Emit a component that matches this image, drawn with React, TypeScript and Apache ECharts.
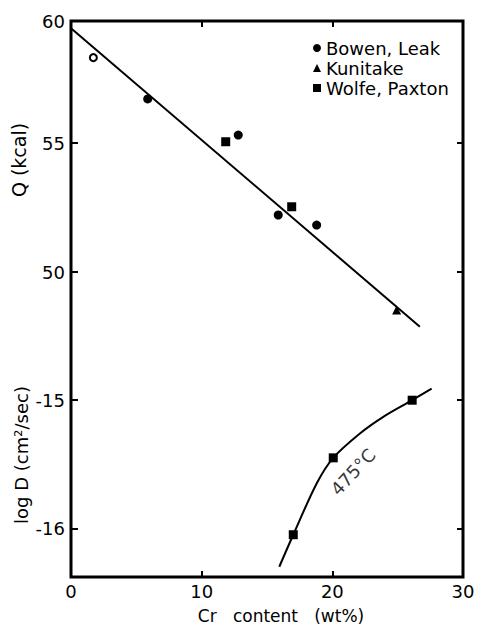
import React, { useEffect, useRef } from "react";
import * as echarts from "echarts";

// ---- data ----
const xTickLabels = [0, 10, 20, 30];
const xInnerTicks = [10, 20];
const qTickLabels = [50, 55, 60];
const qInnerTicks = [50, 55];
const logDTickLabels = [-16, -15];

// Q (kcal) panel
const bowenLeak = [
  [5.87, 56.71],
  [12.8, 55.31],
  [15.86, 52.21],
  [18.8, 51.82],
];
const openPoint = [[1.71, 58.31]];
const kunitake = [[24.92, 48.53]];
const wolfePaxtonQ = [
  [11.84, 55.05],
  [16.89, 52.53],
];
const qFitLine = [
  [0, 59.45],
  [26.7, 47.88],
];

// log D panel
const wolfePaxtonD = [
  [17.01, -16.05],
  [20.07, -15.45],
  [26.11, -15.0],
];
const curve475 = [
  [15.94, -16.3],
  [17.01, -16.05],
  [18.8, -15.65],
  [20.07, -15.45],
  [22.11, -15.26],
  [23.9, -15.13],
  [26.11, -15.0],
  [27.6, -14.91],
];
const curveLabelPos = [[21.58, -15.56]];
const curveLabelText = "475°C";

const legendNames = ["Bowen, Leak", "Kunitake", "Wolfe, Paxton"];

// axis ranges (so the two scales share one frame)
const Q_MIN = 38.18;
const Q_MAX = 59.73;
const D_MIN = -16.38;
const D_MAX = -12.04;

const FONT = "DejaVu Sans";
const INK = "#000";

export default function App() {
  const ref = useRef<HTMLDivElement>(null);

  useEffect(() => {
    if (!ref.current) return;
    const chart = echarts.init(ref.current, null, { renderer: "svg" });

    const tickStyle = { show: true, inside: true, length: 6, lineStyle: { color: INK, width: 2 } };
    const labelStyle = { color: INK, fontSize: 18, fontFamily: FONT };
    const markStyle = { color: INK, opacity: 1 };

    chart.setOption({
      animation: false,
      backgroundColor: "#fff",
      grid: {
        left: 71,
        right: 18,
        top: 21,
        bottom: 49,
        show: true,
        borderColor: INK,
        borderWidth: 3,
        backgroundColor: "transparent",
      },
      legend: {
        data: legendNames,
        orient: "vertical",
        left: 308,
        top: 34,
        itemWidth: 8,
        itemHeight: 8,
        itemGap: 2,
        inactiveColor: INK,
        textStyle: { color: INK, fontSize: 18, fontFamily: FONT, lineHeight: 18 },
      },
      xAxis: [
        {
          type: "value",
          position: "bottom",
          min: 0,
          max: 30,
          axisLine: { show: false },
          splitLine: { show: false },
          axisTick: { ...tickStyle, customValues: xInnerTicks },
          axisLabel: { ...labelStyle, margin: 5, customValues: xTickLabels },
        },
        {
          type: "value",
          position: "top",
          min: 0,
          max: 30,
          axisLine: { show: false },
          splitLine: { show: false },
          axisTick: { ...tickStyle, customValues: xInnerTicks },
          axisLabel: { show: false },
        },
      ],
      yAxis: [
        {
          type: "value",
          position: "left",
          min: Q_MIN,
          max: Q_MAX,
          axisLine: { show: false },
          splitLine: { show: false },
          axisTick: { ...tickStyle, length: 7, customValues: qInnerTicks },
          axisLabel: {
            ...labelStyle,
            margin: 6,
            customValues: qTickLabels.map((v) => Math.min(v, Q_MAX)),
            formatter: (v: number) => String(Math.round(v)),
          },
        },
        {
          type: "value",
          position: "left",
          min: D_MIN,
          max: D_MAX,
          axisLine: { show: false },
          splitLine: { show: false },
          axisTick: { ...tickStyle, length: 7, customValues: logDTickLabels },
          axisLabel: { ...labelStyle, margin: 6, customValues: logDTickLabels },
        },
        {
          type: "value",
          position: "right",
          min: Q_MIN,
          max: Q_MAX,
          axisLine: { show: false },
          splitLine: { show: false },
          axisTick: { ...tickStyle, customValues: qInnerTicks },
          axisLabel: { show: false },
        },
        {
          type: "value",
          position: "right",
          min: D_MIN,
          max: D_MAX,
          axisLine: { show: false },
          splitLine: { show: false },
          axisTick: { ...tickStyle, customValues: logDTickLabels },
          axisLabel: { show: false },
        },
      ],
      graphic: [
        {
          type: "text",
          x: 19,
          y: 160,
          rotation: Math.PI / 2,
          style: {
            text: "Q (kcal)",
            font: `19px "${FONT}"`,
            fill: INK,
            textAlign: "center",
            textVerticalAlign: "middle",
          },
        },
        {
          type: "text",
          x: 21,
          y: 455,
          rotation: Math.PI / 2,
          style: {
            text: "log D (cm²/sec)",
            font: `18px "${FONT}"`,
            fill: INK,
            textAlign: "center",
            textVerticalAlign: "middle",
          },
        },
        {
          type: "text",
          x: 281,
          y: 616,
          style: {
            text: "Cr\u00a0\u00a0 content\u00a0\u00a0 (wt%)",
            font: `17px "${FONT}"`,
            fill: INK,
            textAlign: "center",
            textVerticalAlign: "middle",
          },
        },
      ],
      series: [
        {
          name: "fit",
          type: "line",
          xAxisIndex: 0,
          yAxisIndex: 0,
          data: qFitLine,
          symbol: "none",
          lineStyle: { color: INK, width: 2 },
          z: 2,
        },
        {
          name: "475 curve",
          type: "line",
          xAxisIndex: 0,
          yAxisIndex: 1,
          data: curve475,
          symbol: "none",
          smooth: 0.3,
          lineStyle: { color: INK, width: 2 },
          z: 2,
        },
        {
          name: "Bowen, Leak",
          type: "scatter",
          yAxisIndex: 0,
          data: bowenLeak,
          symbol: "circle",
          symbolSize: 9,
          itemStyle: markStyle,
          z: 3,
        },
        {
          name: "open",
          type: "scatter",
          yAxisIndex: 0,
          data: openPoint,
          symbol: "emptyCircle",
          symbolSize: 7,
          itemStyle: { ...markStyle, borderWidth: 2 },
          z: 3,
        },
        {
          name: "Kunitake",
          type: "scatter",
          yAxisIndex: 0,
          data: kunitake,
          symbol: "triangle",
          symbolSize: 9,
          itemStyle: markStyle,
          z: 3,
        },
        {
          name: "Wolfe, Paxton",
          type: "scatter",
          yAxisIndex: 0,
          data: wolfePaxtonQ,
          symbol: "rect",
          symbolSize: 9,
          itemStyle: markStyle,
          z: 3,
        },
        {
          name: "Wolfe, Paxton",
          type: "scatter",
          yAxisIndex: 1,
          data: wolfePaxtonD,
          symbol: "rect",
          symbolSize: 9,
          itemStyle: markStyle,
          z: 3,
        },
        {
          name: "curve label",
          type: "scatter",
          yAxisIndex: 1,
          data: curveLabelPos,
          symbolSize: 1,
          itemStyle: { color: "rgba(0,0,0,0)" },
          silent: true,
          label: {
            show: true,
            position: "inside",
            formatter: curveLabelText,
            rotate: 47,
            color: INK,
            textBorderWidth: 0,
            fontSize: 18,
            fontFamily: FONT,
          },
          z: 4,
        },
      ],
    });

    return () => chart.dispose();
  }, []);

  return (
    <div
      ref={ref}
      style={{ position: "fixed", left: 0, top: 0, width: 481, height: 626, background: "#fff" }}
    />
  );
}
